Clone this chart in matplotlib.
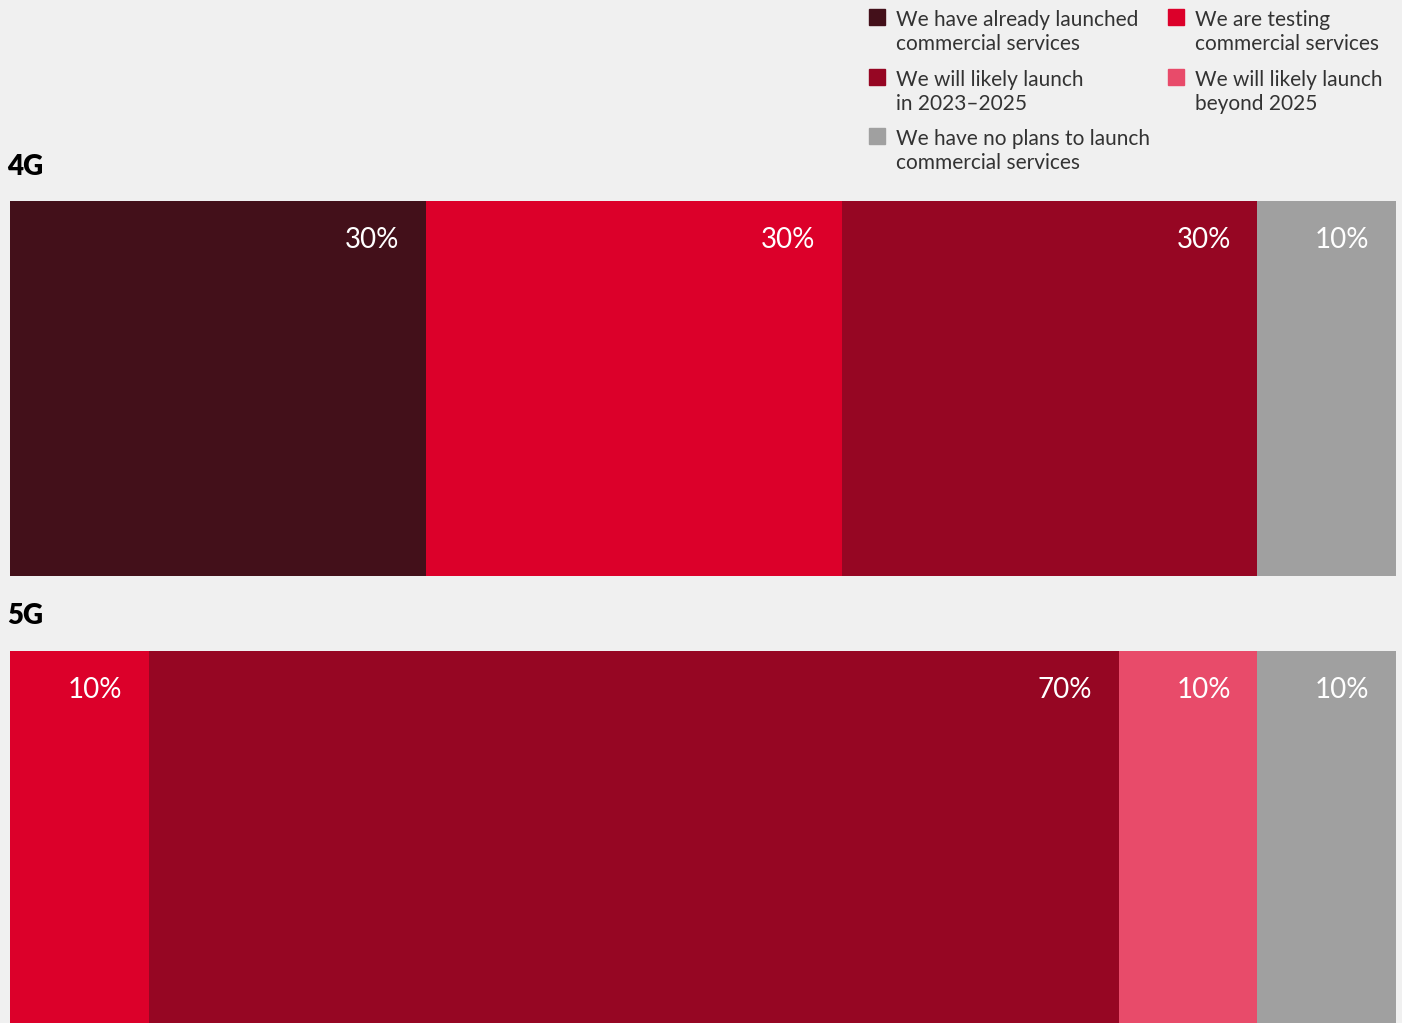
import matplotlib.pyplot as plt
from matplotlib.patches import Rectangle

# data
networks = ["4G", "5G"]
series = [
    "We have already launched\ncommercial services",
    "We are testing\ncommercial services",
    "We will likely launch\nin 2023\u20132025",
    "We will likely launch\nbeyond 2025",
    "We have no plans to launch\ncommercial services",
]
values_4g = [30, 30, 30, 0, 10]
values_5g = [0, 10, 70, 10, 10]
colors = ["#43101a", "#dc002a", "#960623", "#e84b6a", "#a0a0a0"]

BG = "#f0f0f0"
W, H = 1402, 1023
FONT = ["Lato", "DejaVu Sans"]

fig = plt.figure(figsize=(W / 100, H / 100), dpi=100, facecolor=BG)


def fx(px):
    return px / W


def fy(py):
    return 1 - py / H


def draw_bar(top, bottom, values):
    ax = fig.add_axes([fx(10), fy(bottom), fx(1386), (bottom - top) / H])
    ax.set_facecolor(BG)
    left = 0
    for v, c in zip(values, colors):
        if v == 0:
            continue
        ax.barh(0, v, left=left, height=1, color=c, edgecolor="none")
        ax.text(left + v - 1.9, -0.5 + 39 / (bottom - top), f"{v}%",
                ha="right", va="center", color="white", fontsize=20,
                family=FONT)
        left += v
    ax.set_xlim(0, 100)
    ax.set_ylim(-0.5, 0.5)
    ax.invert_yaxis()
    ax.axis("off")


draw_bar(201, 576, values_4g)
draw_bar(651, 1023, values_5g)

fig.text(fx(7), fy(167), networks[0], ha="left", va="center",
         fontsize=20, fontweight="heavy", family=FONT, color="black")
fig.text(fx(7), fy(616), networks[1], ha="left", va="center",
         fontsize=20, fontweight="heavy", family=FONT, color="black")

# legend, two columns
legend_pos = [(869, 9), (1168, 9), (869, 69), (1168, 69), (869, 128)]
for (x, y), label, c in zip(legend_pos, series, colors):
    fig.patches.append(Rectangle((fx(x), fy(y + 16)), fx(16), 16 / H,
                                 transform=fig.transFigure, color=c))
    fig.text(fx(x + 27), fy(y + 1), label, ha="left", va="top",
             fontsize=15, family=FONT, color="#333333", linespacing=1.25)

fig.savefig("out.png", dpi=100, facecolor=BG)
